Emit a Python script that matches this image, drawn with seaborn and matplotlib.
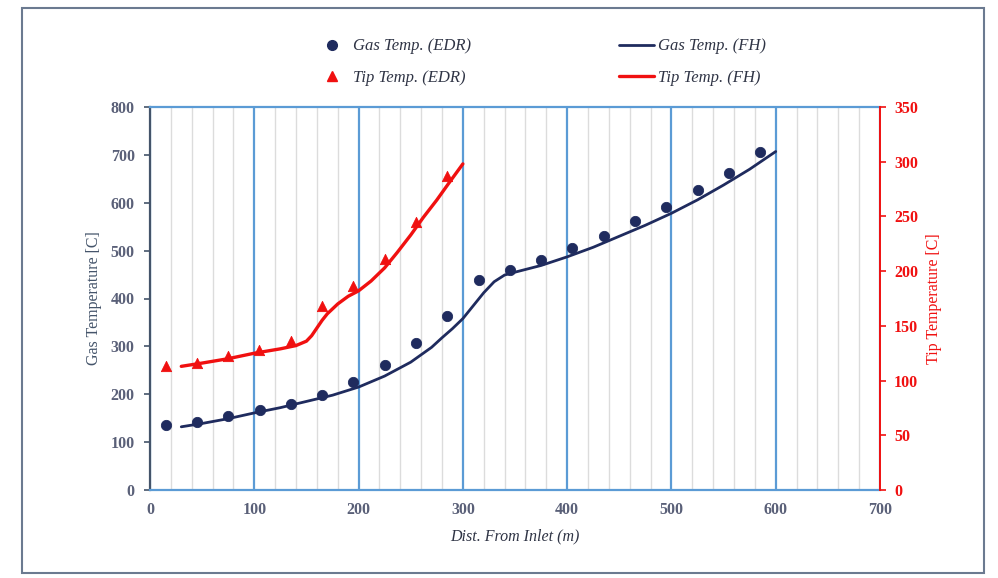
import numpy as np
import pandas as pd
import matplotlib.pyplot as plt
import seaborn as sns
from matplotlib.ticker import MultipleLocator
from matplotlib.patches import Rectangle
from matplotlib.lines import Line2D

sns.set_theme(style="white")
plt.rcParams["font.family"] = ["Liberation Serif", "DejaVu Serif"]

# ----------------------------------------------------------------------
# data
# ----------------------------------------------------------------------
edr_dist = [15, 45, 75, 105, 135, 165, 195, 225, 255, 285,
            315, 345, 375, 405, 435, 465, 495, 525, 555, 585]
gas_edr = [135, 142, 154, 167, 180, 198, 225, 261, 307, 363,
           438, 459, 481, 505, 530, 561, 591, 626, 662, 706]

tip_dist = [15, 45, 75, 105, 135, 165, 195, 225, 255, 285]
tip_edr = [113, 116, 122, 128, 136, 168, 186, 211, 245, 287]

gas_fh_dist = [30, 50, 75, 100, 125, 150, 175, 200, 225, 250, 270, 280, 290,
               300, 310, 320, 330, 340, 350, 375, 400, 425, 450, 475, 500,
               525, 550, 575, 600]
gas_fh = [132, 139, 149, 161, 172, 185, 198, 215, 238, 267, 298, 318, 337,
          358, 385, 412, 435, 449, 455, 469, 487, 507, 530, 553, 578,
          606, 637, 670, 707]

tip_fh_dist = [30, 50, 75, 100, 125, 140, 150, 155, 160, 165, 170, 180, 190,
               200, 212, 225, 237, 250, 262, 275, 287, 300]
tip_fh = [113, 116, 120, 125, 129, 132, 136, 141, 148, 155, 161, 170, 177,
          182, 191, 203, 217, 233, 249, 265, 281, 298]

NAVY = "#1f2b5e"
RED = "#f01010"
SLATE = "#44546a"
TICK_GREY = "#5a6078"
BLUE = "#5b9bd5"

W, H = 998, 578
fig = plt.figure(figsize=(W / 100, H / 100), dpi=100)
ax = fig.add_axes([150 / W, 1 - 490 / H, 730 / W, 383 / H])
ax2 = ax.twinx()

# grid: light minor every 20, blue major every 100
ax.xaxis.set_major_locator(MultipleLocator(100))
ax.xaxis.set_minor_locator(MultipleLocator(20))
ax.grid(which="minor", axis="x", color="#dcdcdc", lw=1.0)
ax.grid(which="major", axis="x", color=BLUE, lw=1.6)
ax.grid(False, axis="y")
ax.set_axisbelow(True)

sns.lineplot(x=gas_fh_dist, y=gas_fh, ax=ax, color=NAVY, lw=2.0, zorder=3)
sns.scatterplot(x=edr_dist, y=gas_edr, ax=ax, color=NAVY, marker="o",
                s=55, edgecolor=NAVY, zorder=4)
sns.lineplot(x=tip_fh_dist, y=tip_fh, ax=ax2, color=RED, lw=2.4, zorder=3)
sns.scatterplot(x=tip_dist, y=tip_edr, ax=ax2, color=RED, marker="^",
                s=55, edgecolor=RED, zorder=4)

ax.set_xlim(0, 700)
ax.set_ylim(0, 800)
ax2.set_ylim(0, 350)
ax.yaxis.set_major_locator(MultipleLocator(100))
ax2.yaxis.set_major_locator(MultipleLocator(50))

# spines
for s in ["top", "bottom"]:
    ax.spines[s].set_color(BLUE)
    ax.spines[s].set_linewidth(1.6)
ax.spines["left"].set_color(SLATE)
ax.spines["left"].set_linewidth(1.6)
ax.spines["right"].set_visible(False)
ax2.spines["right"].set_color(RED)
ax2.spines["right"].set_linewidth(1.4)
for s in ["top", "bottom", "left"]:
    ax2.spines[s].set_visible(False)

ax.tick_params(axis="y", which="major", direction="out", length=4, width=1.2,
               color=SLATE, labelcolor=TICK_GREY, pad=7)
ax.tick_params(axis="x", which="both", length=0, labelcolor=TICK_GREY, pad=9)
ax2.tick_params(axis="y", direction="out", length=4, width=1.2,
                color=RED, labelcolor=RED, pad=6)
for lab in ax.get_xticklabels() + ax.get_yticklabels() + ax2.get_yticklabels():
    lab.set_fontsize(11.5)
    lab.set_fontweight("bold")

ax.set_xlabel("Dist. From Inlet (m)", fontsize=11.5, style="italic",
              color="#2f3445", labelpad=7)
ax.set_ylabel("Gas Temperature [C]", fontsize=11.5, color=SLATE, labelpad=6)
ax2.set_ylabel("Tip Temperature [C]", fontsize=11.5, color=RED, labelpad=6)

# legend above the plot
handles = [
    Line2D([], [], ls="", marker="o", color=NAVY, markersize=7),
    Line2D([], [], ls="", marker="^", color=RED, markersize=7),
    Line2D([], [], color=NAVY, lw=2.0),
    Line2D([], [], color=RED, lw=2.4),
]
labels = ["Gas Temp. (EDR)", "Tip Temp. (EDR)", "Gas Temp. (FH)", "Tip Temp. (FH)"]
fig.legend(handles, labels, ncol=2, loc="center", bbox_to_anchor=(540 / W, 1 - 62 / H),
           frameon=False, prop=dict(family="Liberation Serif", style="italic", size=12),
           handlelength=2.1, handletextpad=0.2, columnspacing=8.9, labelspacing=0.9,
           labelcolor="#2f3445")

# outer frame around the figure
fig.patches.append(Rectangle((22 / W, 1 - 573 / H), 962 / W, 565 / H,
                             transform=fig.transFigure, fill=False,
                             edgecolor="#6b7a90", lw=1.5))

fig.savefig("out.png", dpi=100)
